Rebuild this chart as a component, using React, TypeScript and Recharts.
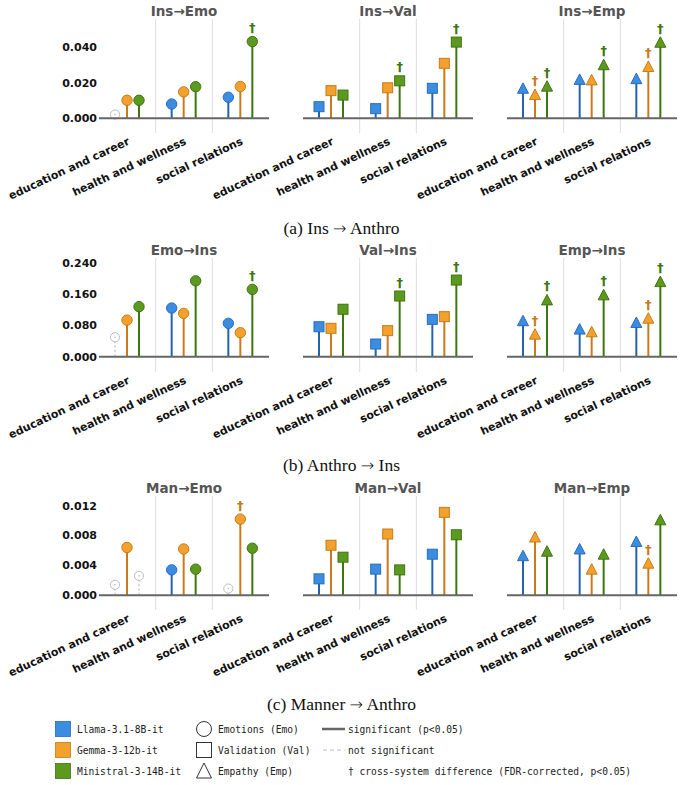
import React from 'react';
import { BarChart, Bar, XAxis, YAxis, ReferenceLine, ReferenceArea } from 'recharts';

const categories = ['education and career', 'health and wellness', 'social relations'];
const modelNames = ['Llama-3.1-8B-it', 'Gemma-3-12b-it', 'Ministral-3-14B-it'];
const modelKeys = ['llama', 'gemma', 'ministral'];

// values per model: [llama], [gemma], [ministral], each over categories
const insEmoValues = [[0.0021, 0.0080, 0.0118], [0.0101, 0.0148, 0.0178], [0.0101, 0.0177, 0.0430]];
const insValValues = [[0.0065, 0.0054, 0.0168], [0.0155, 0.0171, 0.0308], [0.0130, 0.0210, 0.0427]];
const insEmpValues = [[0.0168, 0.0218, 0.0222], [0.0133, 0.0215, 0.0290], [0.0180, 0.0300, 0.0426]];
const emoInsValues = [[0.050, 0.125, 0.0858], [0.094, 0.1115, 0.0617], [0.1286, 0.195, 0.173]];
const valInsValues = [[0.077, 0.0326, 0.096], [0.073, 0.067, 0.103], [0.122, 0.156, 0.197]];
const empInsValues = [[0.0925, 0.071, 0.088], [0.058, 0.064, 0.099], [0.146, 0.159, 0.193]];
const manEmoValues = [[0.0014, 0.0034, 0.0009], [0.0064, 0.0062, 0.0102], [0.0026, 0.0035, 0.0063]];
const manValValues = [[0.0022, 0.0035, 0.0055], [0.0067, 0.0082, 0.0111], [0.0051, 0.0034, 0.0081]];
const manEmpValues = [[0.0053, 0.0062, 0.0072], [0.0078, 0.0035, 0.0043], [0.0059, 0.0055, 0.0101]];

// significance flags (false = not significant)
const allSig = [[true, true, true], [true, true, true], [true, true, true]];
const insEmoSig = [[false, true, true], [true, true, true], [true, true, true]];
const emoInsSig = [[false, true, true], [true, true, true], [true, true, true]];
const manEmoSig = [[false, true, false], [true, true, true], [false, true, true]];

// cross-system difference daggers
const noDagger = [[false, false, false], [false, false, false], [false, false, false]];
const insEmoDagger = [[false, false, false], [false, false, false], [false, false, true]];
const insValDagger = [[false, false, false], [false, false, false], [false, true, true]];
const insEmpDagger = [[false, false, false], [true, false, true], [true, true, true]];
const emoInsDagger = [[false, false, false], [false, false, false], [false, false, true]];
const valInsDagger = [[false, false, false], [false, false, false], [false, true, true]];
const empInsDagger = [[false, false, false], [true, false, true], [true, true, true]];
const manEmoDagger = [[false, false, false], [false, false, true], [false, false, false]];
const manEmpDagger = [[false, false, false], [false, false, true], [false, false, false]];

const row1Ticks = [0, 0.02, 0.04];
const row2Ticks = [0, 0.08, 0.16, 0.24];
const row3Ticks = [0, 0.004, 0.008, 0.012];

const fillColors = ['#3a8de0', '#f2a12c', '#5b9a1e'];
const edgeColors = ['#2a6cbc', '#c77c1a', '#3f7412'];
const stemColors = ['#2463aa', '#c97b1c', '#3e7712'];

const FONT = '"DejaVu Sans", sans-serif';
const W = 683;
const H = 785;

const panelX = [[99, 269], [303, 473], [507, 677]];
const rows = [
  { top: 19, bottom: 133, domain: [-0.00824, 0.05563], ticks: row1Ticks, capA: '(a) Ins', capB: 'Anthro', capY: 217, titleY: 3,
    panels: [
      { title: 'Ins\u2192Emo', shape: 'circle', values: insEmoValues, sig: insEmoSig, dag: insEmoDagger },
      { title: 'Ins\u2192Val', shape: 'square', values: insValValues, sig: allSig, dag: insValDagger },
      { title: 'Ins\u2192Emp', shape: 'triangle', values: insEmpValues, sig: allSig, dag: insEmpDagger },
    ] },
  { top: 258, bottom: 372, domain: [-0.0393, 0.2537], ticks: row2Ticks, capA: '(b) Anthro', capB: 'Ins', capY: 454, titleY: 242,
    panels: [
      { title: 'Emo\u2192Ins', shape: 'circle', values: emoInsValues, sig: emoInsSig, dag: emoInsDagger },
      { title: 'Val\u2192Ins', shape: 'square', values: valInsValues, sig: allSig, dag: valInsDagger },
      { title: 'Emp\u2192Ins', shape: 'triangle', values: empInsValues, sig: allSig, dag: empInsDagger },
    ] },
  { top: 496, bottom: 610, domain: [-0.00197, 0.01329], ticks: row3Ticks, capA: '(c) Manner', capB: 'Anthro', capY: 693, titleY: 480,
    panels: [
      { title: 'Man\u2192Emo', shape: 'circle', values: manEmoValues, sig: manEmoSig, dag: manEmoDagger },
      { title: 'Man\u2192Val', shape: 'square', values: manValValues, sig: allSig, dag: noDagger },
      { title: 'Man\u2192Emp', shape: 'triangle', values: manEmpValues, sig: allSig, dag: manEmpDagger },
    ] },
];

function buildData(values: number[][], sig: boolean[][], dag: boolean[][]) {
  return categories.map((cat, ci) => {
    const row: any = { cat };
    modelKeys.forEach((k, mi) => {
      row[k] = values[mi][ci];
      row[k + '_sig'] = sig[mi][ci];
      row[k + '_dag'] = dag[mi][ci];
    });
    return row;
  });
}

function Marker({ shape, cx, cy, fill, edge }: any) {
  if (shape === 'circle') return <circle cx={cx} cy={cy} r={5.2} fill={fill} stroke={edge} strokeWidth={1} />;
  if (shape === 'square') return <rect x={cx - 5} y={cy - 5} width={10} height={10} fill={fill} stroke={edge} strokeWidth={1} />;
  return <polygon points={`${cx},${cy - 5.5} ${cx - 5.5},${cy + 5} ${cx + 5.5},${cy + 5}`} fill={fill} stroke={edge} strokeWidth={1} />;
}

function makeShape(mi: number, shape: string) {
  return (props: any) => {
    const { x, y, width, height, payload } = props;
    if (x == null || y == null) return <g />;
    const cx = x + width / 2;
    const h = height || 0;
    const top = h >= 0 ? y : y + h;
    const base = h >= 0 ? y + h : y;
    const key = modelKeys[mi];
    const sig = payload ? payload[key + '_sig'] : true;
    const dag = payload ? payload[key + '_dag'] : false;
    if (!sig) {
      return (
        <g>
          <line x1={cx} x2={cx} y1={base} y2={top + 4.5} stroke="#c4c4c4" strokeWidth={1.2} strokeDasharray="2.5 2" />
          <circle cx={cx} cy={top} r={4.6} fill="#fff" stroke="#bdbdbd" strokeWidth={1} />
          <circle cx={cx} cy={top} r={0.8} fill="#bdbdbd" />
        </g>
      );
    }
    return (
      <g>
        <line x1={cx} x2={cx} y1={base} y2={top} stroke={stemColors[mi]} strokeWidth={2} />
        <Marker shape={shape} cx={cx} cy={top} fill={fillColors[mi]} edge={edgeColors[mi]} />
        {dag && (
          <text x={cx} y={top - 9.5} textAnchor="middle" fontFamily={FONT} fontWeight="bold" fontSize={13} fill={stemColors[mi]}>
            {'\u2020'}
          </text>
        )}
      </g>
    );
  };
}

const XTick = (props: any) => {
  const { x, y, payload } = props;
  return (
    <text
      x={x + 3}
      y={y + 11}
      transform={`rotate(-25, ${x + 3}, ${y + 11})`}
      textAnchor="end"
      fontFamily={FONT}
      fontWeight="bold"
      fontSize={11}
      fill="#111"
    >
      {payload.value}
    </text>
  );
};

const DividerShape = (props: any) => {
  const { x, y, width, height } = props;
  if (x == null) return <g />;
  return (
    <g>
      <line x1={x} x2={x} y1={y} y2={y + height} stroke="#dedede" strokeWidth={1} />
      <line x1={x + width} x2={x + width} y1={y} y2={y + height} stroke="#dedede" strokeWidth={1} />
    </g>
  );
};

function Panel({ row, panel, pi }: any) {
  const [pl, pr] = panelX[pi];
  const XH = 10;
  const YW = 40;
  const first = pi === 0;
  const data = buildData(panel.values, panel.sig, panel.dag);
  return (
    <div style={{ position: 'absolute', left: 0, top: 0 }}>
      <BarChart
        width={W}
        height={H}
        data={data}
        barSize={8}
        barGap={4}
        margin={{ top: row.top, bottom: H - row.bottom - XH, left: first ? pl - YW : pl, right: W - pr }}
      >
        <XAxis
          dataKey="cat"
          type="category"
          height={XH}
          axisLine={false}
          tickLine={false}
          tickSize={0}
          tickMargin={0}
          interval={0}
          tick={<XTick />}
        />
        <YAxis
          type="number"
          domain={row.domain}
          allowDataOverflow
          ticks={row.ticks}
          hide={!first}
          width={YW}
          axisLine={false}
          tickLine={false}
          tickSize={0}
          tickMargin={2}
          tickFormatter={(v: number) => v.toFixed(3)}
          tick={{ fontFamily: FONT, fontWeight: 'bold', fontSize: 11, fill: '#111' }}
        />
        <ReferenceArea x1={categories[1]} x2={categories[1]} ifOverflow="visible" shape={<DividerShape />} />
        <ReferenceLine y={0} stroke="#666" strokeWidth={2} />
        {modelKeys.map((k, mi) => (
          <Bar key={k} dataKey={k} isAnimationActive={false} shape={makeShape(mi, panel.shape)} />
        ))}
      </BarChart>
    </div>
  );
}

function Legend() {
  const monoFont = '"DejaVu Sans Mono", monospace';
  const ys = [729, 750, 771];
  return (
    <svg width={W} height={80} style={{ position: 'absolute', left: 0, top: 705 }}>
      {modelNames.map((m, i) => (
        <g key={m}>
          <rect x={55.5} y={ys[i] - 705 - 7.5} width={15} height={15} fill={fillColors[i]} stroke={edgeColors[i]} strokeWidth={0.8} />
          <text x={77} y={ys[i] - 705 + 3.5} fontFamily={monoFont} fontSize={9.6} fill="#222">{m}</text>
        </g>
      ))}
      <circle cx={204} cy={ys[0] - 705} r={7.5} fill="none" stroke="#333" strokeWidth={1} />
      <rect x={196.5} y={ys[1] - 705 - 7.5} width={15} height={15} fill="none" stroke="#333" strokeWidth={1} />
      <polygon points={`204,${ys[2] - 705 - 8} 196.5,${ys[2] - 705 + 7} 211.5,${ys[2] - 705 + 7}`} fill="none" stroke="#333" strokeWidth={1} />
      {['Emotions (Emo)', 'Validation (Val)', 'Empathy (Emp)'].map((t, i) => (
        <text key={t} x={218} y={ys[i] - 705 + 3.5} fontFamily={monoFont} fontSize={9.6} fill="#222">{t}</text>
      ))}
      <line x1={322} x2={345} y1={ys[0] - 705} y2={ys[0] - 705} stroke="#666" strokeWidth={2.5} />
      <line x1={323} x2={345} y1={ys[1] - 705} y2={ys[1] - 705} stroke="#bbb" strokeWidth={1.2} strokeDasharray="4 3" />
      <text x={348} y={ys[0] - 705 + 3.5} fontFamily={monoFont} fontSize={9.6} fill="#222">significant (p&lt;0.05)</text>
      <text x={348} y={ys[1] - 705 + 3.5} fontFamily={monoFont} fontSize={9.6} fill="#222">not significant</text>
      <text x={348} y={ys[2] - 705 + 3.5} fontFamily={monoFont} fontSize={9.6} fill="#222">{'\u2020 cross-system difference (FDR-corrected, p<0.05)'}</text>
    </svg>
  );
}

export default function App() {
  return (
    <div style={{ position: 'absolute', left: 0, top: 0, width: W, height: H, background: '#fff', overflow: 'hidden' }}>
      {rows.map((row, ri) => (
        <React.Fragment key={ri}>
          {row.panels.map((panel, pi) => (
            <Panel key={pi} row={row} panel={panel} pi={pi} />
          ))}
          {row.panels.map((panel, pi) => (
            <div
              key={'t' + pi}
              style={{
                position: 'absolute',
                left: panelX[pi][0] - 20,
                width: panelX[pi][1] - panelX[pi][0] + 40,
                top: row.titleY,
                textAlign: 'center',
                fontFamily: FONT,
                fontWeight: 'bold',
                fontSize: 13.5,
                color: '#555',
                lineHeight: '16px',
              }}
            >
              {panel.title}
            </div>
          ))}
          <div
            style={{
              position: 'absolute',
              left: 0,
              width: W,
              top: row.capY,
              textAlign: 'center',
              fontFamily: '"Liberation Serif", "Times New Roman", serif',
              fontSize: 17.5,
              color: '#111',
              lineHeight: '22px',
              whiteSpace: 'pre',
            }}
          >
            {row.capA + ' '}
            <span style={{ fontFamily: FONT, fontSize: 16, fontWeight: 300 }}>{'\u2192'}</span>
            {' ' + row.capB}
          </div>
        </React.Fragment>
      ))}
      <Legend />
    </div>
  );
}
